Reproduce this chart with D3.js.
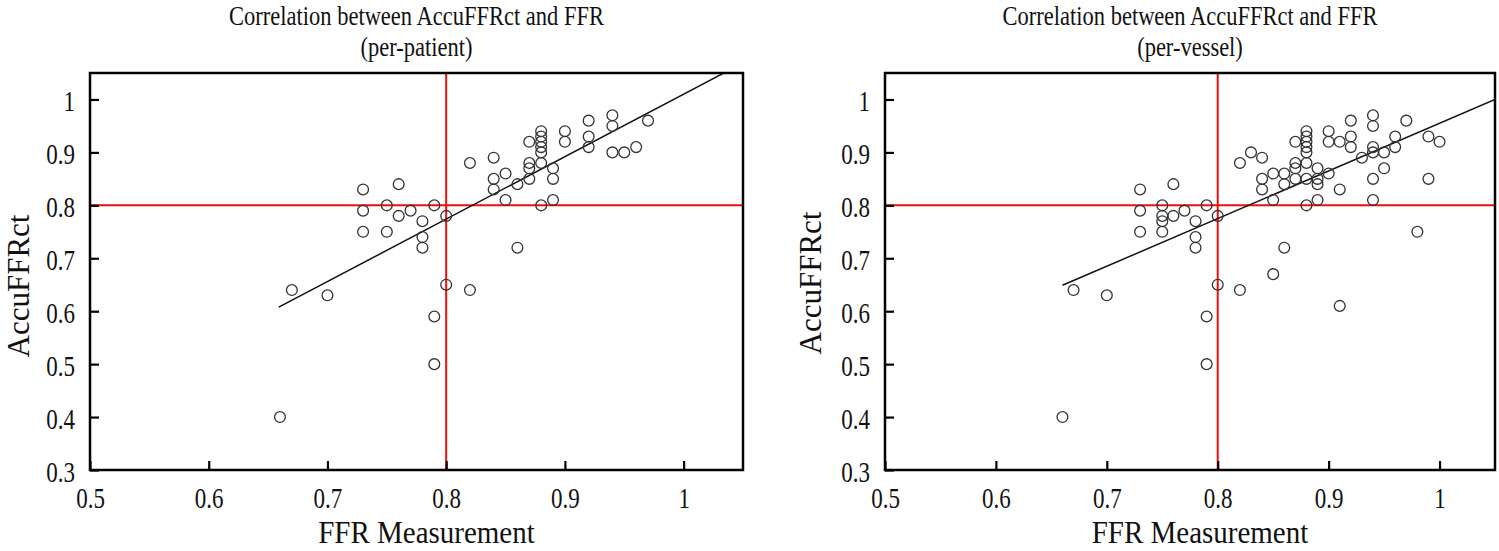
<!DOCTYPE html>
<html>
<head>
<meta charset="utf-8">
<script src="https://cdn.jsdelivr.net/npm/d3@7"></script>
<style>
  html, body { margin: 0; padding: 0; background: #fff; }
  svg { display: block; }
  text { font-family: "Liberation Serif", "Times New Roman", serif; fill: #111; }
</style>
</head>
<body>
<svg id="chart" width="1499" height="551"></svg>
<script>
// ---------------- data ----------------
const xTicks = [0.5, 0.6, 0.7, 0.8, 0.9, 1];
const yTicks = [0.3, 0.4, 0.5, 0.6, 0.7, 0.8, 0.9, 1];
const cutoff = 0.8;

// per-patient
const patientFFR = [0.66,0.67,0.70,0.73,0.73,0.73,0.75,0.75,0.76,0.76,0.77,0.78,0.78,0.78,0.79,0.79,0.79,0.80,0.80,
  0.82,0.82,0.84,0.84,0.84,0.85,0.85,0.86,0.86,0.87,0.87,0.87,0.87,0.88,0.88,0.88,0.88,0.88,0.88,0.88,
  0.89,0.89,0.89,0.90,0.90,0.92,0.92,0.92,0.94,0.94,0.94,0.95,0.96,0.97];
const patientCT = [0.40,0.64,0.63,0.83,0.79,0.75,0.80,0.75,0.84,0.78,0.79,0.77,0.74,0.72,0.80,0.59,0.50,0.78,0.65,
  0.88,0.64,0.89,0.85,0.83,0.86,0.81,0.84,0.72,0.92,0.88,0.87,0.85,0.94,0.93,0.92,0.91,0.90,0.88,0.80,
  0.87,0.85,0.81,0.94,0.92,0.96,0.93,0.91,0.97,0.95,0.90,0.90,0.91,0.96];
const patientFit = [-0.170, 1.18];      // intercept, slope
const patientFitFrom = 0.659;

// per-vessel
const vesselFFR = [0.66,0.67,0.70,0.73,0.73,0.73,0.75,0.75,0.75,0.75,0.76,0.76,0.77,0.78,0.78,0.78,0.79,0.79,0.79,0.80,0.80,
  0.82,0.82,0.83,0.84,0.84,0.84,0.85,0.85,0.85,0.86,0.86,0.86,0.87,0.87,0.87,0.87,
  0.88,0.88,0.88,0.88,0.88,0.88,0.88,0.88,0.89,0.89,0.89,0.89,0.90,0.90,0.90,0.91,0.91,0.91,
  0.92,0.92,0.92,0.93,0.94,0.94,0.94,0.94,0.94,0.94,0.95,0.95,0.96,0.96,0.97,0.98,0.99,0.99,1.00];
const vesselCT = [0.40,0.64,0.63,0.83,0.79,0.75,0.80,0.78,0.77,0.75,0.84,0.78,0.79,0.77,0.74,0.72,0.80,0.59,0.50,0.78,0.65,
  0.88,0.64,0.90,0.89,0.85,0.83,0.86,0.81,0.67,0.86,0.84,0.72,0.92,0.88,0.87,0.85,
  0.94,0.93,0.92,0.91,0.90,0.88,0.85,0.80,0.87,0.85,0.84,0.81,0.94,0.92,0.86,0.92,0.83,0.61,
  0.96,0.93,0.91,0.89,0.97,0.95,0.91,0.90,0.85,0.81,0.90,0.87,0.93,0.91,0.96,0.75,0.93,0.85,0.92];
const vesselFit = [0.055, 0.90];
const vesselFitFrom = 0.66;

const panels = [
  { title: ["Correlation between AccuFFRct and FFR", "(per-patient)"], ffr: patientFFR, ct: patientCT,
    fit: patientFit, fitFrom: patientFitFrom, x0: 90, x1: 743, ylabX: 29, ylabY: 286 },
  { title: ["Correlation between AccuFFRct and FFR", "(per-vessel)"], ffr: vesselFFR, ct: vesselCT,
    fit: vesselFit, fitFrom: vesselFitFrom, x0: 885, x1: 1495, ylabX: 821, ylabY: 283 }
];

// ---------------- drawing ----------------
const svg = d3.select("#chart");
const plotTop = 73, plotBottom = 470;
const stretch = 1.3;   // the source figure's lettering is tall and narrow
const titleStretch = 1.2;

panels.forEach((p, i) => {
  const x = d3.scaleLinear().domain([0.5, 1.05]).range([p.x0, p.x1]);
  const y = d3.scaleLinear().domain([0.3, 1.05]).range([plotBottom, plotTop]);
  const g = svg.append("g");

  const clipId = "clip" + i;
  svg.append("clipPath").attr("id", clipId).append("rect")
    .attr("x", p.x0).attr("y", plotTop).attr("width", p.x1 - p.x0).attr("height", plotBottom - plotTop);

  // red cutoff lines
  g.append("line").attr("x1", x(cutoff)).attr("x2", x(cutoff)).attr("y1", plotTop).attr("y2", plotBottom)
    .attr("stroke", "#f20d0d").attr("stroke-width", 2);
  g.append("line").attr("x1", p.x0).attr("x2", p.x1).attr("y1", y(cutoff)).attr("y2", y(cutoff))
    .attr("stroke", "#f20d0d").attr("stroke-width", 2);

  // regression line
  const fx = [p.fitFrom, 1.05];
  g.append("line").attr("clip-path", `url(#${clipId})`)
    .attr("x1", x(fx[0])).attr("y1", y(p.fit[0] + p.fit[1] * fx[0]))
    .attr("x2", x(fx[1])).attr("y2", y(p.fit[0] + p.fit[1] * fx[1]))
    .attr("stroke", "#111").attr("stroke-width", 1.5);

  // points
  g.selectAll("circle.pt").data(p.ffr.map((v, k) => [v, p.ct[k]])).join("circle")
    .attr("class", "pt")
    .attr("cx", d => x(d[0])).attr("cy", d => y(d[1])).attr("r", 5.4)
    .attr("fill", "none").attr("stroke", "#333").attr("stroke-width", 1.3);

  // axes (inward ticks)
  const fmt = d => String(d);
  const xa = g.append("g").attr("transform", `translate(0,${plotBottom})`)
    .call(d3.axisBottom(x).tickValues(xTicks).tickFormat(fmt).tickSize(-9));
  const ya = g.append("g").attr("transform", `translate(${p.x0},0)`)
    .call(d3.axisLeft(y).tickValues(yTicks).tickFormat(fmt).tickSize(-9));
  [xa, ya].forEach(a => {
    a.select(".domain").remove();
    a.selectAll(".tick line").attr("stroke", "#000").attr("stroke-width", 2.2);
    a.selectAll(".tick text").attr("font-size", 23).attr("fill", "#111")
      .style("font-family", '"Liberation Serif", serif')
      .attr("x", 0).attr("y", 0).attr("dy", 0);
  });
  xa.selectAll(".tick text").attr("transform", `translate(0,38) scale(1,${stretch})`);
  ya.selectAll(".tick text").attr("transform", `translate(-15,11) scale(1,${stretch})`);

  // frame
  g.append("rect").attr("x", p.x0).attr("y", plotTop).attr("width", p.x1 - p.x0).attr("height", plotBottom - plotTop)
    .attr("fill", "none").attr("stroke", "#000").attr("stroke-width", 2.5);

  // titles
  const cx = (p.x0 + p.x1) / 2;
  g.append("text").attr("transform", `translate(${cx},25) scale(1,${titleStretch})`).attr("text-anchor", "middle")
    .attr("font-size", 22.5).text(p.title[0]);
  g.append("text").attr("transform", `translate(${cx},56) scale(1,${titleStretch})`).attr("text-anchor", "middle")
    .attr("font-size", 22.5).text(p.title[1]);

  // axis labels
  g.append("text").attr("transform", `translate(${cx + 10},543) scale(1,1.1)`).attr("text-anchor", "middle")
    .attr("font-size", 29).text("FFR Measurement");
  g.append("text").attr("transform", `translate(${p.ylabX},${p.ylabY}) rotate(-90)`)
    .attr("text-anchor", "middle").attr("font-size", 31).text("AccuFFRct");
});
</script>
</body>
</html>
